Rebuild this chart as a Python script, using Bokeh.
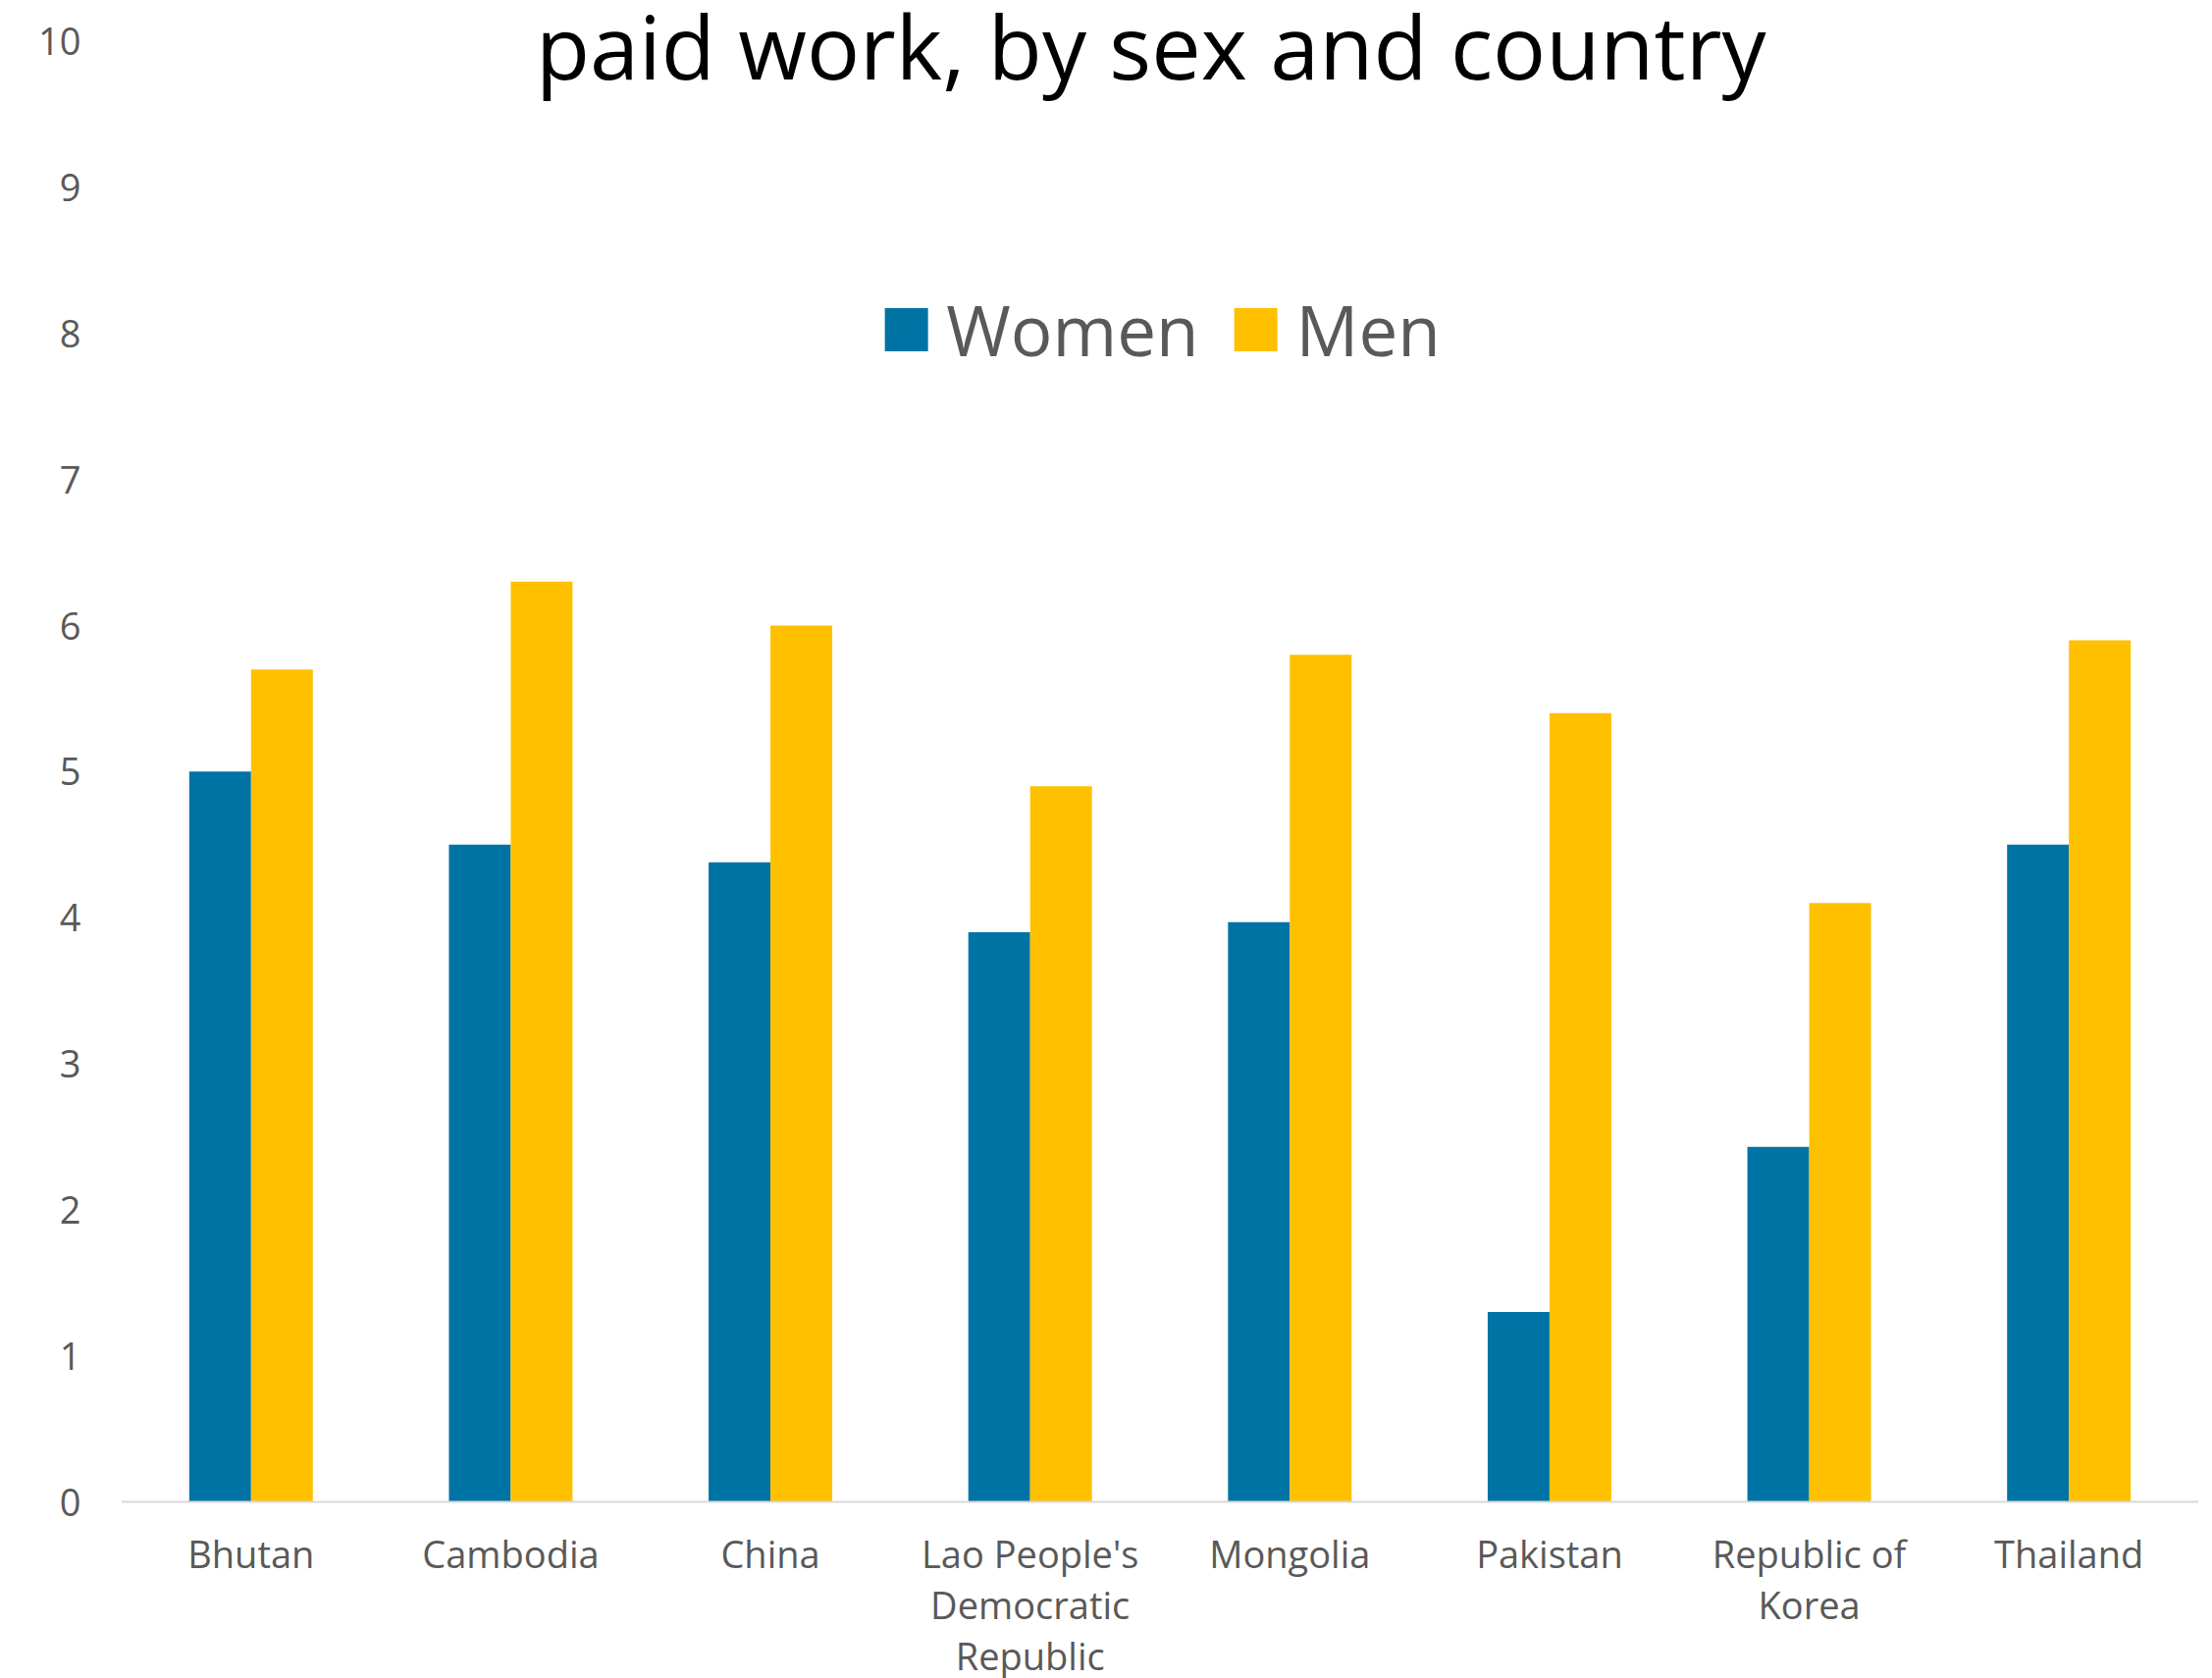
from bokeh.plotting import figure
from bokeh.models import ColumnDataSource, FixedTicker, Label, Legend, LegendItem, Span
from bokeh.core.properties import value
from bokeh.transform import dodge
from bokeh.embed import file_html
from bokeh.resources import INLINE

countries = ["Bhutan", "Cambodia", "China", "Lao People's Democratic Republic",
             "Mongolia", "Pakistan", "Republic of Korea", "Thailand"]
women = [5.0, 4.5, 4.38, 3.9, 3.97, 1.3, 2.43, 4.5]
men = [5.7, 6.3, 6.0, 4.9, 5.8, 5.4, 4.1, 5.9]
y_ticks = [0, 1, 2, 3, 4, 5, 6, 7, 8, 9, 10]
wrapped_labels = ["Bhutan", "Cambodia", "China", "Lao People's\nDemocratic\nRepublic",
                  "Mongolia", "Pakistan", "Republic of\nKorea", "Thailand"]
title_text = "paid work, by sex and country"

FONT = "Open Sans"
TEXT_COLOR = "#595959"
WOMEN_COLOR = "#0073A5"
MEN_COLOR = "#FFC000"

source = ColumnDataSource(dict(country=countries, women=women, men=men,
                               label=wrapped_labels))

# the frame covers the full canvas height; value axis 0..10 sits inside it
p = figure(width=2254, height=1710, x_range=countries, y_range=(-1.2094, 10.2802),
           output_backend="svg", toolbar_location=None,
           min_border_left=123, min_border_right=14, min_border_top=0,
           min_border_bottom=0)
p.outline_line_color = None
p.background_fill_color = "white"
p.border_fill_color = "white"

r_w = p.vbar(x=dodge("country", -0.119, range=p.x_range), top="women", width=0.238,
             source=source, color=WOMEN_COLOR, line_color=None)
r_m = p.vbar(x=dodge("country", 0.119, range=p.x_range), top="men", width=0.238,
             source=source, color=MEN_COLOR, line_color=None)

p.xgrid.grid_line_color = None
p.ygrid.grid_line_color = None

yax = p.yaxis[0]
yax.ticker = FixedTicker(ticks=y_ticks)
yax.axis_line_color = None
yax.major_tick_line_color = None
yax.minor_tick_line_color = None
yax.major_tick_out = 0
yax.major_label_standoff = 41
yax.major_label_text_font = FONT
yax.major_label_text_font_size = "38px"
yax.major_label_text_color = TEXT_COLOR

p.xaxis.visible = False
# category axis line at value 0
p.add_layout(Span(location=0, dimension="width", line_color="#D9D9D9", line_width=2))

# category labels (multi-line), centred under each factor
p.text(x="country", y=-0.18, text="label", source=source,
       text_align="center", text_baseline="top", text_font=value(FONT),
       text_font_size="38px", text_color=TEXT_COLOR, text_line_height=1.0)

legend = Legend(items=[LegendItem(label="Women", renderers=[r_w]),
                       LegendItem(label="Men", renderers=[r_m])],
                orientation="horizontal", location="top_center",
                glyph_width=55, glyph_height=55, label_standoff=14, spacing=30,
                padding=0, margin=287, border_line_color=None,
                background_fill_alpha=0,
                label_text_font=FONT, label_text_font_size="71px",
                label_text_color=TEXT_COLOR)
p.add_layout(legend, "center")

title = Label(x=3.965, y=9.975, text=title_text, text_align="center",
              text_baseline="alphabetic", text_font=FONT, text_font_size="90px",
              text_color="black")
p.add_layout(title)

open("out.html", "w").write(file_html(p, INLINE))
